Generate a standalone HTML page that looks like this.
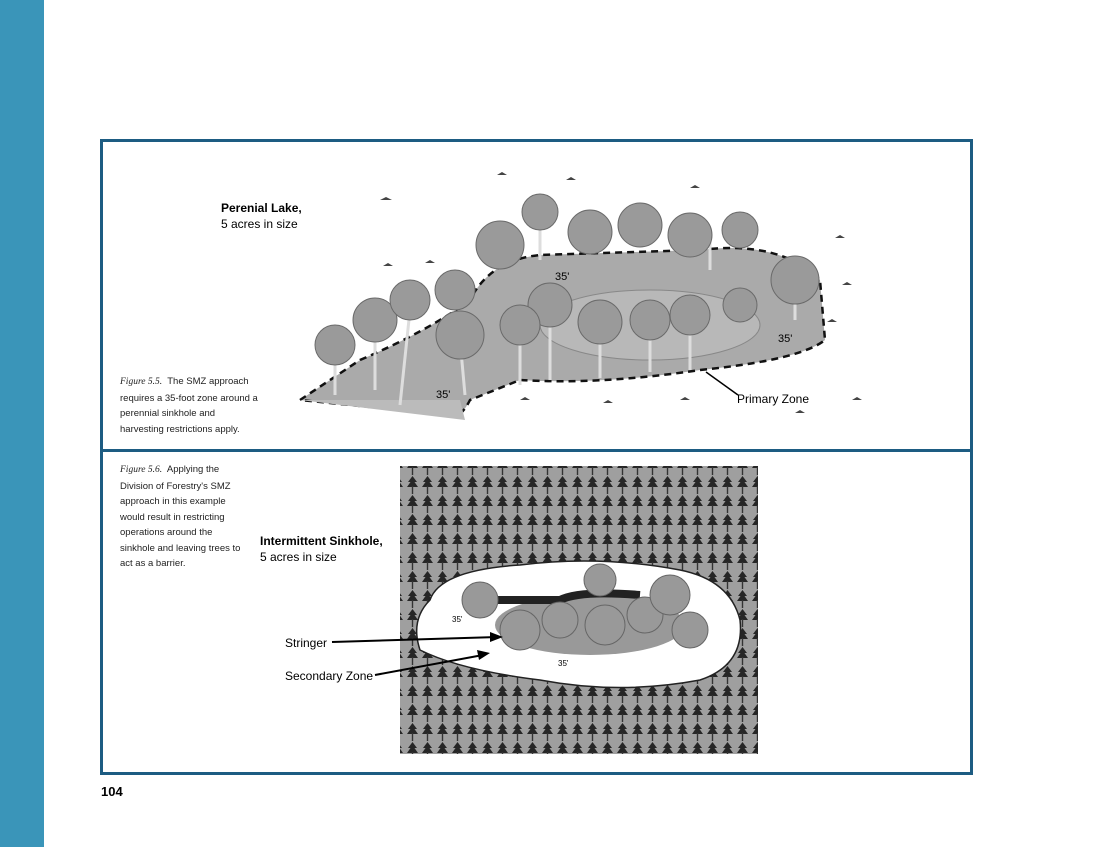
<!DOCTYPE html>
<html><head><meta charset="utf-8"><style>
body{margin:0;width:1100px;height:847px;background:#fff;position:relative;overflow:hidden;font-family:"Liberation Sans",sans-serif}
.bar{position:absolute;left:0;top:0;width:44px;height:847px;background:#3a95b9}
.box{position:absolute;left:100px;top:139px;width:867px;height:630px;border:3px solid #1d5c82}
.div{position:absolute;left:100px;top:449px;width:873px;height:3px;background:#1d5c82}
.cap{position:absolute;font-size:9.5px;line-height:15.5px;color:#222}
.cap i{font-family:"Liberation Serif",serif}
.t{position:absolute;font-size:12px;color:#000}
.b{font-weight:bold}
</style></head><body>
<div class="bar"></div>
<div class="box"></div>
<div class="div"></div>
<div class="t b" style="left:221px;top:200px;line-height:16px">Perenial Lake,<br><span style="font-weight:normal">5 acres in size</span></div>
<div class="cap" style="left:120px;top:374px"><i>Figure 5.5.</i>&nbsp; The SMZ approach<br>requires a 35-foot zone around a<br>perennial sinkhole and<br>harvesting restrictions apply.</div>
<div class="cap" style="left:120px;top:462px"><i>Figure 5.6.</i>&nbsp; Applying the<br>Division of Forestry's SMZ<br>approach in this example<br>would result in restricting<br>operations around the<br>sinkhole and leaving trees to<br>act as a barrier.</div>
<div class="t b" style="left:260px;top:533px;line-height:16px">Intermittent Sinkhole,<br><span style="font-weight:normal">5 acres in size</span></div>
<svg style="position:absolute;left:0;top:0" width="1100" height="847">
<defs>
<pattern id="tr" width="15" height="19" patternUnits="userSpaceOnUse">
<rect width="15" height="19" fill="#9f9f9f"/>
<path d="M7.5 1 L3 7 L5.5 7 L2 12 L13 12 L9.5 7 L12 7 Z" fill="#262626"/>
<rect x="6.8" y="11" width="1.4" height="8" fill="#333"/>
</pattern>
</defs>
<!-- top figure -->
<path d="M300 400 L360 360 Q430 330 470 300 Q490 260 540 255 L700 250 Q780 240 820 280 L825 340 Q800 360 700 370 Q600 385 520 380 L470 400 Q460 420 450 415 Z" fill="#aaa" stroke="#111" stroke-width="2.5" stroke-dasharray="7 5"/>
<path d="M300 400 L465 420 L460 400 Z" fill="#bbb"/>
<ellipse cx="650" cy="325" rx="110" ry="35" fill="#b8b8b8" stroke="#888"/>
<g stroke="#ddd" stroke-width="3">
<line x1="335" y1="350" x2="335" y2="395"/><line x1="375" y1="330" x2="375" y2="390"/><line x1="410" y1="310" x2="400" y2="405"/><line x1="460" y1="340" x2="465" y2="395"/><line x1="520" y1="330" x2="520" y2="385"/><line x1="550" y1="310" x2="550" y2="380"/><line x1="600" y1="330" x2="600" y2="378"/><line x1="650" y1="325" x2="650" y2="372"/><line x1="690" y1="320" x2="690" y2="370"/><line x1="795" y1="280" x2="795" y2="320"/><line x1="540" y1="220" x2="540" y2="260"/><line x1="710" y1="235" x2="710" y2="270"/>
</g>
<g fill="#9a9a9a" stroke="#6a6a6a">
<circle cx="335" cy="345" r="20"/><circle cx="375" cy="320" r="22"/><circle cx="410" cy="300" r="20"/><circle cx="455" cy="290" r="20"/><circle cx="460" cy="335" r="24"/><circle cx="500" cy="245" r="24"/><circle cx="540" cy="212" r="18"/><circle cx="590" cy="232" r="22"/><circle cx="640" cy="225" r="22"/><circle cx="690" cy="235" r="22"/><circle cx="740" cy="230" r="18"/><circle cx="795" cy="280" r="24"/><circle cx="550" cy="305" r="22"/><circle cx="600" cy="322" r="22"/><circle cx="650" cy="320" r="20"/><circle cx="690" cy="315" r="20"/><circle cx="740" cy="305" r="17"/><circle cx="520" cy="325" r="20"/>
</g>
<g fill="#444">
<path d="M380 200 l6 -3 l6 3 z"/><path d="M497 175 l5 -3 l5 3 z"/><path d="M566 180 l5 -3 l5 3 z"/><path d="M690 188 l5 -3 l5 3 z"/><path d="M835 238 l5 -3 l5 3 z"/><path d="M383 266 l5 -3 l5 3 z"/><path d="M842 285 l5 -3 l5 3 z"/><path d="M827 322 l5 -3 l5 3 z"/><path d="M520 400 l5 -3 l5 3 z"/><path d="M603 403 l5 -3 l5 3 z"/><path d="M680 400 l5 -3 l5 3 z"/><path d="M795 413 l5 -3 l5 3 z"/><path d="M852 400 l5 -3 l5 3 z"/><path d="M425 263 l5 -3 l5 3 z"/>
</g>
<text x="555" y="280" font-size="11">35'</text><text x="778" y="342" font-size="11">35'</text><text x="436" y="398" font-size="11">35'</text>
<line x1="706" y1="372" x2="738" y2="395" stroke="#000" stroke-width="1.5"/>
<text x="737" y="403" font-size="12">Primary Zone</text>
<!-- bottom figure -->
<rect x="400" y="466" width="358" height="288" fill="url(#tr)"/>
<path d="M430 600 Q440 570 520 565 Q600 555 680 570 Q730 580 740 620 Q745 665 700 680 Q620 695 540 680 Q460 670 420 650 Q410 620 430 600 Z" fill="#fff" stroke="#222" stroke-width="1.5"/>
<ellipse cx="590" cy="625" rx="95" ry="30" fill="#999"/>
<path d="M495 600 L560 600 Q580 590 640 595" stroke="#222" stroke-width="8" fill="none"/>
<g fill="#999" stroke="#666"><circle cx="480" cy="600" r="18"/><circle cx="520" cy="630" r="20"/><circle cx="560" cy="620" r="18"/><circle cx="605" cy="625" r="20"/><circle cx="645" cy="615" r="18"/><circle cx="670" cy="595" r="20"/><circle cx="690" cy="630" r="18"/><circle cx="600" cy="580" r="16"/></g>
<text x="452" y="622" font-size="8">35'</text><text x="558" y="666" font-size="8">35'</text>
<line x1="332" y1="642" x2="498" y2="637" stroke="#000" stroke-width="2"/><path d="M503 637 L490 632 L490 642 Z"/>
<line x1="375" y1="675" x2="483" y2="655" stroke="#000" stroke-width="2"/><path d="M490 653 L477 650 L479 660 Z"/>
<text x="285" y="647" font-size="12">Stringer</text>
<text x="285" y="680" font-size="12">Secondary Zone</text>
<text x="101" y="796" font-size="13" font-weight="bold">104</text>
</svg>
</body></html>
